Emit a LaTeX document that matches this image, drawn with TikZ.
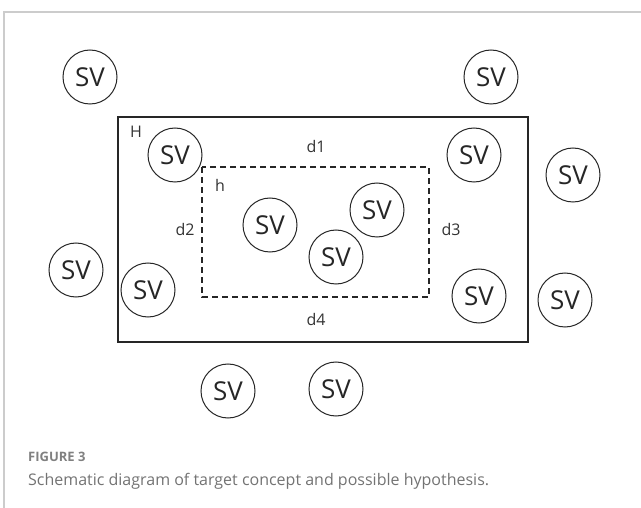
\documentclass[tikz,border=0pt]{standalone}
\usepackage{fontspec}
\setmainfont{Open Sans}
\newfontfamily\capfont{Open Sans}
\begin{document}
\begin{tikzpicture}[x=1pt,y=-1pt,
  sv/.style={circle,draw=black!85,line width=1pt,minimum size=54pt,inner sep=0pt,
    font=\fontsize{26}{26}\selectfont,text=black!85},
  lbl/.style={font=\fontsize{16}{16}\selectfont,text=black!80,inner sep=1pt},
  hbox/.style={draw=black!85,line width=1.3pt},
  hdash/.style={draw=black!85,line width=1.3pt,dash pattern=on 6pt off 4pt}]
\useasboundingbox (0,0) rectangle (641,508);
% light frame around the figure
\draw[black!20,line width=1.2pt] (641,12) -- (4,12) -- (4,508);
% hypothesis regions
\draw[hbox] (118,117) rectangle (528,342);
\draw[hdash] (202,167) rectangle (429,297);
% region labels
\node[lbl] (H) at (136,132) {H};
\node[lbl] (hl) at (220,185) {h};
\node[lbl] (d1) at (316,147) {d1};
\node[lbl] (d2) at (185,230) {d2};
\node[lbl] (d3) at (451,230) {d3};
\node[lbl] (d4) at (316,320) {d4};
% support vectors
\node[sv] (s1) at (90,77) {SV};
\node[sv] (s2) at (491,77) {SV};
\node[sv] (s3) at (175,155) {SV};
\node[sv] (s4) at (474,155) {SV};
\node[sv] (s5) at (573,175) {SV};
\node[sv] (s6) at (76,270) {SV};
\node[sv] (s7) at (148,290) {SV};
\node[sv] (s8) at (270,225) {SV};
\node[sv] (s9) at (377,210) {SV};
\node[sv] (s10) at (336,257) {SV};
\node[sv] (s11) at (479,296) {SV};
\node[sv] (s12) at (565,300) {SV};
\node[sv] (s13) at (228,391) {SV};
\node[sv] (s14) at (336,389) {SV};
% caption
\node[anchor=base west,inner sep=0pt,text=black!50,font=\capfont\fontsize{13}{13}\selectfont\bfseries] (fig) at (28,461) {FIGURE 3};
\node[anchor=base west,inner sep=0pt,text=black!55,font=\capfont\fontsize{16}{16}\selectfont] (cap) at (28,485) {Schematic diagram of target concept and possible hypothesis.};
\end{tikzpicture}
\end{document}
